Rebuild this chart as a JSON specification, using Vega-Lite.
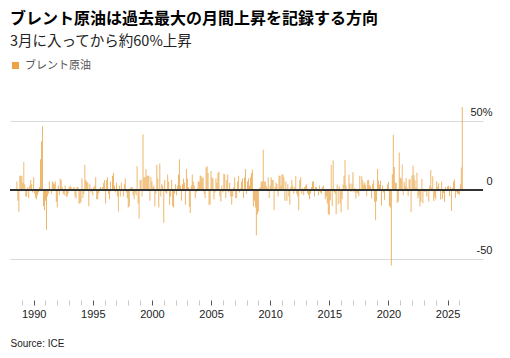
{
  "$schema": "https://vega.github.io/schema/vega-lite/v6.json",
  "width": 473,
  "height": 200,
  "autosize": {"type": "none"},
  "padding": {"left": 10, "top": 100, "right": 27, "bottom": 58},
  "background": "white",
  "config": {"view": {"stroke": null}},
  "title": {
    "text": "ブレント原油は過去最大の月間上昇を記録する方向",
    "subtitle": "3月に入ってから約60%上昇",
    "anchor": "start",
    "frame": "group",
    "font": "Noto Sans CJK JP",
    "fontSize": 16,
    "fontWeight": "bold",
    "color": "#000000",
    "subtitleFont": "Noto Sans CJK JP",
    "subtitleFontSize": 14.5,
    "subtitleColor": "#222222",
    "subtitlePadding": 8,
    "offset": 12
  },
  "data": {
    "values": [
      {"month": "1988-07", "change": 6}, {"month": "1988-08", "change": -8}, {"month": "1988-09", "change": -16}, {"month": "1988-10", "change": 10}, {"month": "1988-11", "change": 10}, {"month": "1988-12", "change": 10},
      {"month": "1989-01", "change": 5}, {"month": "1989-02", "change": 20}, {"month": "1989-03", "change": 4}, {"month": "1989-04", "change": -5}, {"month": "1989-05", "change": -5}, {"month": "1989-06", "change": 2}, {"month": "1989-07", "change": -6}, {"month": "1989-08", "change": 3}, {"month": "1989-09", "change": 7}, {"month": "1989-10", "change": 4}, {"month": "1989-11", "change": -2}, {"month": "1989-12", "change": 9},
      {"month": "1990-01", "change": -3}, {"month": "1990-02", "change": -6}, {"month": "1990-03", "change": -7}, {"month": "1990-04", "change": -4}, {"month": "1990-05", "change": -2}, {"month": "1990-06", "change": 2}, {"month": "1990-07", "change": 22}, {"month": "1990-08", "change": 35}, {"month": "1990-09", "change": 46}, {"month": "1990-10", "change": -12}, {"month": "1990-11", "change": -15}, {"month": "1990-12", "change": -8},
      {"month": "1991-01", "change": -29}, {"month": "1991-02", "change": -5}, {"month": "1991-03", "change": -3}, {"month": "1991-04", "change": 6}, {"month": "1991-05", "change": -1}, {"month": "1991-06", "change": -3}, {"month": "1991-07", "change": 6}, {"month": "1991-08", "change": 5}, {"month": "1991-09", "change": 4}, {"month": "1991-10", "change": 6}, {"month": "1991-11", "change": -9}, {"month": "1991-12", "change": -13},
      {"month": "1992-01", "change": 3}, {"month": "1992-02", "change": -4}, {"month": "1992-03", "change": 8}, {"month": "1992-04", "change": 7}, {"month": "1992-05", "change": 2}, {"month": "1992-06", "change": -3}, {"month": "1992-07", "change": -4}, {"month": "1992-08", "change": 3}, {"month": "1992-09", "change": -5}, {"month": "1992-10", "change": -5}, {"month": "1992-11", "change": -3}, {"month": "1992-12", "change": 2},
      {"month": "1993-01", "change": 3}, {"month": "1993-02", "change": 2}, {"month": "1993-03", "change": -1}, {"month": "1993-04", "change": 1}, {"month": "1993-05", "change": 2}, {"month": "1993-06", "change": -5}, {"month": "1993-07", "change": -6.5}, {"month": "1993-08", "change": 2}, {"month": "1993-09", "change": 2}, {"month": "1993-10", "change": -10}, {"month": "1993-11", "change": -10}, {"month": "1993-12", "change": -9},
      {"month": "1994-01", "change": 8}, {"month": "1994-02", "change": -6}, {"month": "1994-03", "change": -3}, {"month": "1994-04", "change": 18}, {"month": "1994-05", "change": 7}, {"month": "1994-06", "change": 6}, {"month": "1994-07", "change": 5}, {"month": "1994-08", "change": -12}, {"month": "1994-09", "change": 4}, {"month": "1994-10", "change": -2}, {"month": "1994-11", "change": 1}, {"month": "1994-12", "change": -4},
      {"month": "1995-01", "change": 2}, {"month": "1995-02", "change": 3}, {"month": "1995-03", "change": 9}, {"month": "1995-04", "change": -7}, {"month": "1995-05", "change": -7}, {"month": "1995-06", "change": -3}, {"month": "1995-07", "change": 1}, {"month": "1995-08", "change": 2}, {"month": "1995-09", "change": -1}, {"month": "1995-10", "change": 2}, {"month": "1995-11", "change": 5}, {"month": "1995-12", "change": 7},
      {"month": "1996-01", "change": -10}, {"month": "1996-02", "change": 7}, {"month": "1996-03", "change": 9}, {"month": "1996-04", "change": -3}, {"month": "1996-05", "change": -7}, {"month": "1996-06", "change": 6}, {"month": "1996-07", "change": -1}, {"month": "1996-08", "change": 10}, {"month": "1996-09", "change": 12}, {"month": "1996-10", "change": 3}, {"month": "1996-11", "change": -2}, {"month": "1996-12", "change": 5},
      {"month": "1997-01", "change": -5}, {"month": "1997-02", "change": -16}, {"month": "1997-03", "change": 3}, {"month": "1997-04", "change": -5}, {"month": "1997-05", "change": 5}, {"month": "1997-06", "change": -1}, {"month": "1997-07", "change": -5}, {"month": "1997-08", "change": 4}, {"month": "1997-09", "change": 8}, {"month": "1997-10", "change": -2}, {"month": "1997-11", "change": -6}, {"month": "1997-12", "change": -13},
      {"month": "1998-01", "change": -12}, {"month": "1998-02", "change": 1}, {"month": "1998-03", "change": 2}, {"month": "1998-04", "change": 2}, {"month": "1998-05", "change": -4}, {"month": "1998-06", "change": -7}, {"month": "1998-07", "change": -2}, {"month": "1998-08", "change": -4}, {"month": "1998-09", "change": 17}, {"month": "1998-10", "change": -10}, {"month": "1998-11", "change": -21}, {"month": "1998-12", "change": 7},
      {"month": "1999-01", "change": 7}, {"month": "1999-02", "change": -5}, {"month": "1999-03", "change": 40}, {"month": "1999-04", "change": 9}, {"month": "1999-05", "change": 9}, {"month": "1999-06", "change": 15}, {"month": "1999-07", "change": 10}, {"month": "1999-08", "change": 10}, {"month": "1999-09", "change": 10}, {"month": "1999-10", "change": -8}, {"month": "1999-11", "change": 9}, {"month": "1999-12", "change": 6},
      {"month": "2000-01", "change": 2}, {"month": "2000-02", "change": 3}, {"month": "2000-03", "change": -12}, {"month": "2000-04", "change": -3}, {"month": "2000-05", "change": 18}, {"month": "2000-06", "change": 8}, {"month": "2000-07", "change": -13}, {"month": "2000-08", "change": 19}, {"month": "2000-09", "change": -5}, {"month": "2000-10", "change": 4}, {"month": "2000-11", "change": 3}, {"month": "2000-12", "change": -24},
      {"month": "2001-01", "change": 7}, {"month": "2001-02", "change": -2}, {"month": "2001-03", "change": -3}, {"month": "2001-04", "change": 11}, {"month": "2001-05", "change": 6}, {"month": "2001-06", "change": -11}, {"month": "2001-07", "change": -5}, {"month": "2001-08", "change": 7}, {"month": "2001-09", "change": -12}, {"month": "2001-10", "change": -13}, {"month": "2001-11", "change": -3}, {"month": "2001-12", "change": 4},
      {"month": "2002-01", "change": -4}, {"month": "2002-02", "change": 3}, {"month": "2002-03", "change": 11}, {"month": "2002-04", "change": 22}, {"month": "2002-05", "change": 3}, {"month": "2002-06", "change": -8}, {"month": "2002-07", "change": 4}, {"month": "2002-08", "change": 8}, {"month": "2002-09", "change": 5}, {"month": "2002-10", "change": -11}, {"month": "2002-11", "change": 15}, {"month": "2002-12", "change": 8},
      {"month": "2003-01", "change": 2}, {"month": "2003-02", "change": -12.5}, {"month": "2003-03", "change": -17}, {"month": "2003-04", "change": 3}, {"month": "2003-05", "change": 11}, {"month": "2003-06", "change": 6}, {"month": "2003-07", "change": 3}, {"month": "2003-08", "change": -6}, {"month": "2003-09", "change": -2}, {"month": "2003-10", "change": 1}, {"month": "2003-11", "change": 6}, {"month": "2003-12", "change": 6},
      {"month": "2004-01", "change": 10}, {"month": "2004-02", "change": 10}, {"month": "2004-03", "change": 8}, {"month": "2004-04", "change": 9}, {"month": "2004-05", "change": -3}, {"month": "2004-06", "change": -6}, {"month": "2004-07", "change": 16}, {"month": "2004-08", "change": 17}, {"month": "2004-09", "change": 12}, {"month": "2004-10", "change": -11}, {"month": "2004-11", "change": -11}, {"month": "2004-12", "change": 13.5},
      {"month": "2005-01", "change": 9}, {"month": "2005-02", "change": 8}, {"month": "2005-03", "change": -7}, {"month": "2005-04", "change": -2}, {"month": "2005-05", "change": 8}, {"month": "2005-06", "change": 5}, {"month": "2005-07", "change": 12}, {"month": "2005-08", "change": 13}, {"month": "2005-09", "change": -5}, {"month": "2005-10", "change": -8.5}, {"month": "2005-11", "change": 3}, {"month": "2005-12", "change": -2},
      {"month": "2006-01", "change": 11.6}, {"month": "2006-02", "change": 11}, {"month": "2006-03", "change": -6}, {"month": "2006-04", "change": 7}, {"month": "2006-05", "change": 11}, {"month": "2006-06", "change": -2}, {"month": "2006-07", "change": 5}, {"month": "2006-08", "change": -5}, {"month": "2006-09", "change": -11}, {"month": "2006-10", "change": -5}, {"month": "2006-11", "change": 2}, {"month": "2006-12", "change": 9},
      {"month": "2007-01", "change": -6}, {"month": "2007-02", "change": -6}, {"month": "2007-03", "change": 6}, {"month": "2007-04", "change": 10}, {"month": "2007-05", "change": -2}, {"month": "2007-06", "change": 1}, {"month": "2007-07", "change": 6}, {"month": "2007-08", "change": 8}, {"month": "2007-09", "change": -6}, {"month": "2007-10", "change": 9}, {"month": "2007-11", "change": 15}, {"month": "2007-12", "change": -3},
      {"month": "2008-01", "change": 6}, {"month": "2008-02", "change": 8}, {"month": "2008-03", "change": 3}, {"month": "2008-04", "change": 9}, {"month": "2008-05", "change": 12}, {"month": "2008-06", "change": 14.7}, {"month": "2008-07", "change": -12}, {"month": "2008-08", "change": -8}, {"month": "2008-09", "change": -13}, {"month": "2008-10", "change": -33}, {"month": "2008-11", "change": -18}, {"month": "2008-12", "change": -16},
      {"month": "2009-01", "change": 1}, {"month": "2009-02", "change": 2}, {"month": "2009-03", "change": 6}, {"month": "2009-04", "change": 6}, {"month": "2009-05", "change": 29}, {"month": "2009-06", "change": 6}, {"month": "2009-07", "change": 6}, {"month": "2009-08", "change": 3}, {"month": "2009-09", "change": 1}, {"month": "2009-10", "change": 9}, {"month": "2009-11", "change": -6}, {"month": "2009-12", "change": 3},
      {"month": "2010-01", "change": 9}, {"month": "2010-02", "change": 7}, {"month": "2010-03", "change": 7}, {"month": "2010-04", "change": -15}, {"month": "2010-05", "change": 2}, {"month": "2010-06", "change": 5}, {"month": "2010-07", "change": 4}, {"month": "2010-08", "change": -5}, {"month": "2010-09", "change": 10}, {"month": "2010-10", "change": 10}, {"month": "2010-11", "change": 3}, {"month": "2010-12", "change": 11},
      {"month": "2011-01", "change": 11}, {"month": "2011-02", "change": 9}, {"month": "2011-03", "change": -8}, {"month": "2011-04", "change": 6}, {"month": "2011-05", "change": -8}, {"month": "2011-06", "change": 4}, {"month": "2011-07", "change": -5}, {"month": "2011-08", "change": -11}, {"month": "2011-09", "change": 2}, {"month": "2011-10", "change": 7}, {"month": "2011-11", "change": 3}, {"month": "2011-12", "change": -3},
      {"month": "2012-01", "change": 2}, {"month": "2012-02", "change": 10}, {"month": "2012-03", "change": -3}, {"month": "2012-04", "change": -5}, {"month": "2012-05", "change": -15}, {"month": "2012-06", "change": 7}, {"month": "2012-07", "change": 9}, {"month": "2012-08", "change": -3}, {"month": "2012-09", "change": 1}, {"month": "2012-10", "change": -4}, {"month": "2012-11", "change": 2}, {"month": "2012-12", "change": 3},
      {"month": "2013-01", "change": 4}, {"month": "2013-02", "change": -3}, {"month": "2013-03", "change": -4}, {"month": "2013-04", "change": -7}, {"month": "2013-05", "change": -3}, {"month": "2013-06", "change": 2}, {"month": "2013-07", "change": 6}, {"month": "2013-08", "change": 6}, {"month": "2013-09", "change": -5}, {"month": "2013-10", "change": 2}, {"month": "2013-11", "change": 2}, {"month": "2013-12", "change": -1},
      {"month": "2014-01", "change": -4}, {"month": "2014-02", "change": 3}, {"month": "2014-03", "change": -2}, {"month": "2014-04", "change": -3}, {"month": "2014-05", "change": 2}, {"month": "2014-06", "change": 3}, {"month": "2014-07", "change": -1}, {"month": "2014-08", "change": -7}, {"month": "2014-09", "change": -5}, {"month": "2014-10", "change": -10}, {"month": "2014-11", "change": -18}, {"month": "2014-12", "change": -18},
      {"month": "2015-01", "change": -7.6}, {"month": "2015-02", "change": 18.1}, {"month": "2015-03", "change": -11.9}, {"month": "2015-04", "change": 21.2}, {"month": "2015-05", "change": -1.8}, {"month": "2015-06", "change": -3.0}, {"month": "2015-07", "change": -17.9}, {"month": "2015-08", "change": 3.7}, {"month": "2015-09", "change": -10.7}, {"month": "2015-10", "change": 2.5}, {"month": "2015-11", "change": -10.0}, {"month": "2015-12", "change": -16.4},
      {"month": "2016-01", "change": -6.8}, {"month": "2016-02", "change": 3.5}, {"month": "2016-03", "change": 10.1}, {"month": "2016-04", "change": 21.5}, {"month": "2016-05", "change": 3.2}, {"month": "2016-06", "change": 0.0}, {"month": "2016-07", "change": -14.5}, {"month": "2016-08", "change": 10.8}, {"month": "2016-09", "change": 4.3}, {"month": "2016-10", "change": -1.5}, {"month": "2016-11", "change": 4.5}, {"month": "2016-12", "change": 12.6},
      {"month": "2017-01", "change": -2.0}, {"month": "2017-02", "change": 1.4}, {"month": "2017-03", "change": -6.6}, {"month": "2017-04", "change": -2.1}, {"month": "2017-05", "change": -2.7}, {"month": "2017-06", "change": -4.8}, {"month": "2017-07", "change": 10.0}, {"month": "2017-08", "change": -0.6}, {"month": "2017-09", "change": 9.8}, {"month": "2017-10", "change": 6.7}, {"month": "2017-11", "change": 3.6}, {"month": "2017-12", "change": 5.1},
      {"month": "2018-01", "change": 3.3}, {"month": "2018-02", "change": -4.7}, {"month": "2018-03", "change": 6.8}, {"month": "2018-04", "change": 7.0}, {"month": "2018-05", "change": 3.2}, {"month": "2018-06", "change": 2.4}, {"month": "2018-07", "change": -6.5}, {"month": "2018-08", "change": 4.3}, {"month": "2018-09", "change": 6.8}, {"month": "2018-10", "change": -8.8}, {"month": "2018-11", "change": -22.2}, {"month": "2018-12", "change": -8.4},
      {"month": "2019-01", "change": 15.0}, {"month": "2019-02", "change": 6.7}, {"month": "2019-03", "change": 3.6}, {"month": "2019-04", "change": 6.4}, {"month": "2019-05", "change": -11.4}, {"month": "2019-06", "change": 3.2}, {"month": "2019-07", "change": -2.1}, {"month": "2019-08", "change": -7.3}, {"month": "2019-09", "change": 0.6}, {"month": "2019-10", "change": -0.9}, {"month": "2019-11", "change": 3.7}, {"month": "2019-12", "change": 5.7},
      {"month": "2020-01", "change": -11.9}, {"month": "2020-02", "change": -13.1}, {"month": "2020-03", "change": -55.0}, {"month": "2020-04", "change": 11.1}, {"month": "2020-05", "change": 39.8}, {"month": "2020-06", "change": 16.5}, {"month": "2020-07", "change": 5.2}, {"month": "2020-08", "change": 4.6}, {"month": "2020-09", "change": -9.6}, {"month": "2020-10", "change": -8.5}, {"month": "2020-11", "change": 27.0}, {"month": "2020-12", "change": 8.8},
      {"month": "2021-01", "change": 7.9}, {"month": "2021-02", "change": 18.3}, {"month": "2021-03", "change": -3.9}, {"month": "2021-04", "change": 5.8}, {"month": "2021-05", "change": 3.1}, {"month": "2021-06", "change": 8.4}, {"month": "2021-07", "change": 1.6}, {"month": "2021-08", "change": -4.4}, {"month": "2021-09", "change": 7.6}, {"month": "2021-10", "change": 7.5}, {"month": "2021-11", "change": -16.4}, {"month": "2021-12", "change": 10.2},
      {"month": "2022-01", "change": 17.3}, {"month": "2022-02", "change": 10.7}, {"month": "2022-03", "change": 6.9}, {"month": "2022-04", "change": 1.3}, {"month": "2022-05", "change": 12.3}, {"month": "2022-06", "change": -6.5}, {"month": "2022-07", "change": -4.2}, {"month": "2022-08", "change": -12.3}, {"month": "2022-09", "change": -8.8}, {"month": "2022-10", "change": 7.8}, {"month": "2022-11", "change": -9.9}, {"month": "2022-12", "change": 0.6},
      {"month": "2023-01", "change": -1.7}, {"month": "2023-02", "change": -0.7}, {"month": "2023-03", "change": -4.9}, {"month": "2023-04", "change": -0.3}, {"month": "2023-05", "change": -8.6}, {"month": "2023-06", "change": 3.1}, {"month": "2023-07", "change": 14.2}, {"month": "2023-08", "change": 1.5}, {"month": "2023-09", "change": 9.7}, {"month": "2023-10", "change": -8.3}, {"month": "2023-11", "change": -5.2}, {"month": "2023-12", "change": -7.0},
      {"month": "2024-01", "change": 6.1}, {"month": "2024-02", "change": 2.3}, {"month": "2024-03", "change": 4.6}, {"month": "2024-04", "change": 0.4}, {"month": "2024-05", "change": -7.1}, {"month": "2024-06", "change": 5.9}, {"month": "2024-07", "change": -6.6}, {"month": "2024-08", "change": -2.4}, {"month": "2024-09", "change": -8.9}, {"month": "2024-10", "change": 1.9}, {"month": "2024-11", "change": -0.3}, {"month": "2024-12", "change": 2.3},
      {"month": "2025-01", "change": 2.8}, {"month": "2025-02", "change": -4.7}, {"month": "2025-03", "change": 2.1}, {"month": "2025-04", "change": -15.5}, {"month": "2025-05", "change": 1.2}, {"month": "2025-06", "change": 5.8}, {"month": "2025-07", "change": 7.3}, {"month": "2025-08", "change": -6.1}, {"month": "2025-09", "change": -1.6}, {"month": "2025-10", "change": -2.9}, {"month": "2025-11", "change": -2.9}, {"month": "2025-12", "change": -3.7},
      {"month": "2026-01", "change": 4}, {"month": "2026-02", "change": 16}, {"month": "2026-03", "change": 60}
    ]
  },
  "layer": [
    {
      "mark": {"type": "bar", "binSpacing": 0, "cornerRadius": 0, "fillOpacity": 0.8},
      "encoding": {
        "x": {
          "field": "month",
          "timeUnit": "utcyearmonth",
          "type": "temporal",
          "scale": {"type": "utc", "domain": [{"year": 1988, "month": 1, "date": 1, "utc": true}, {"year": 2028, "month": 1, "date": 1, "utc": true}]},
          "axis": {
            "orient": "bottom",
            "domain": false,
            "grid": false,
            "values": [
              {"year": 1989, "utc": true}, {"year": 1990, "utc": true}, {"year": 1991, "utc": true}, {"year": 1992, "utc": true}, {"year": 1993, "utc": true}, {"year": 1994, "utc": true}, {"year": 1995, "utc": true}, {"year": 1996, "utc": true}, {"year": 1997, "utc": true}, {"year": 1998, "utc": true},
              {"year": 1999, "utc": true}, {"year": 2000, "utc": true}, {"year": 2001, "utc": true}, {"year": 2002, "utc": true}, {"year": 2003, "utc": true}, {"year": 2004, "utc": true}, {"year": 2005, "utc": true}, {"year": 2006, "utc": true}, {"year": 2007, "utc": true}, {"year": 2008, "utc": true},
              {"year": 2009, "utc": true}, {"year": 2010, "utc": true}, {"year": 2011, "utc": true}, {"year": 2012, "utc": true}, {"year": 2013, "utc": true}, {"year": 2014, "utc": true}, {"year": 2015, "utc": true}, {"year": 2016, "utc": true}, {"year": 2017, "utc": true}, {"year": 2018, "utc": true},
              {"year": 2019, "utc": true}, {"year": 2020, "utc": true}, {"year": 2021, "utc": true}, {"year": 2022, "utc": true}, {"year": 2023, "utc": true}, {"year": 2024, "utc": true}, {"year": 2025, "utc": true}, {"year": 2026, "utc": true}
            ],
            "labelExpr": "utcyear(datum.value) % 5 === 0 ? utcFormat(datum.value, '%Y') : ''",
            "labelFont": "Liberation Sans",
            "labelFontSize": 11,
            "labelColor": "#222222",
            "labelBaseline": "alphabetic",
            "labelPadding": 12,
            "labelOverlap": false,
            "tickSize": 5,
            "tickColor": {"condition": {"test": "utcyear(datum.value) % 5 === 0", "value": "#555555"}, "value": "#c8c8c8"},
            "title": "Source: ICE",
            "titleFont": "Liberation Sans",
            "titleFontSize": 10,
            "titleFontWeight": "normal",
            "titleColor": "#222222",
            "titleAnchor": "start",
            "titleAlign": "left",
            "titleBaseline": "alphabetic",
            "titleX": 0,
            "titleY": 46
          }
        },
        "y": {
          "field": "change",
          "type": "quantitative",
          "scale": {"domain": [-80, 65], "nice": false, "zero": false},
          "axis": {
            "orient": "right",
            "values": [-50, 0, 50],
            "domain": false,
            "ticks": false,
            "tickSize": 0,
            "labelAlign": "right",
            "labelPadding": 9,
            "labelBaseline": "alphabetic",
            "labelOffset": -5,
            "labelFont": "Liberation Sans",
            "labelFontSize": 11,
            "labelColor": "#222222",
            "labelExpr": "datum.value === 50 ? '50%' : toString(datum.value)",
            "gridColor": {"condition": {"test": "datum.value === 0", "value": "transparent"}, "value": "#d9d9d9"},
            "gridWidth": 1,
            "title": null
          }
        },
        "y2": {"datum": 0},
        "color": {
          "datum": "ブレント原油",
          "type": "nominal",
          "scale": {"range": ["#eaa445"]},
          "legend": {
            "orient": "none",
            "legendX": 0,
            "legendY": -40,
            "title": null,
            "symbolType": "square",
            "symbolSize": 50,
            "symbolStrokeWidth": 0,
            "symbolOpacity": 1,
            "labelFont": "Noto Sans CJK JP",
            "labelFontSize": 11,
            "labelColor": "#555555"
          }
        }
      }
    },
    {
      "mark": {"type": "rule", "color": "#333333", "strokeWidth": 1.2},
      "encoding": {"y": {"datum": 0}}
    }
  ]
}
